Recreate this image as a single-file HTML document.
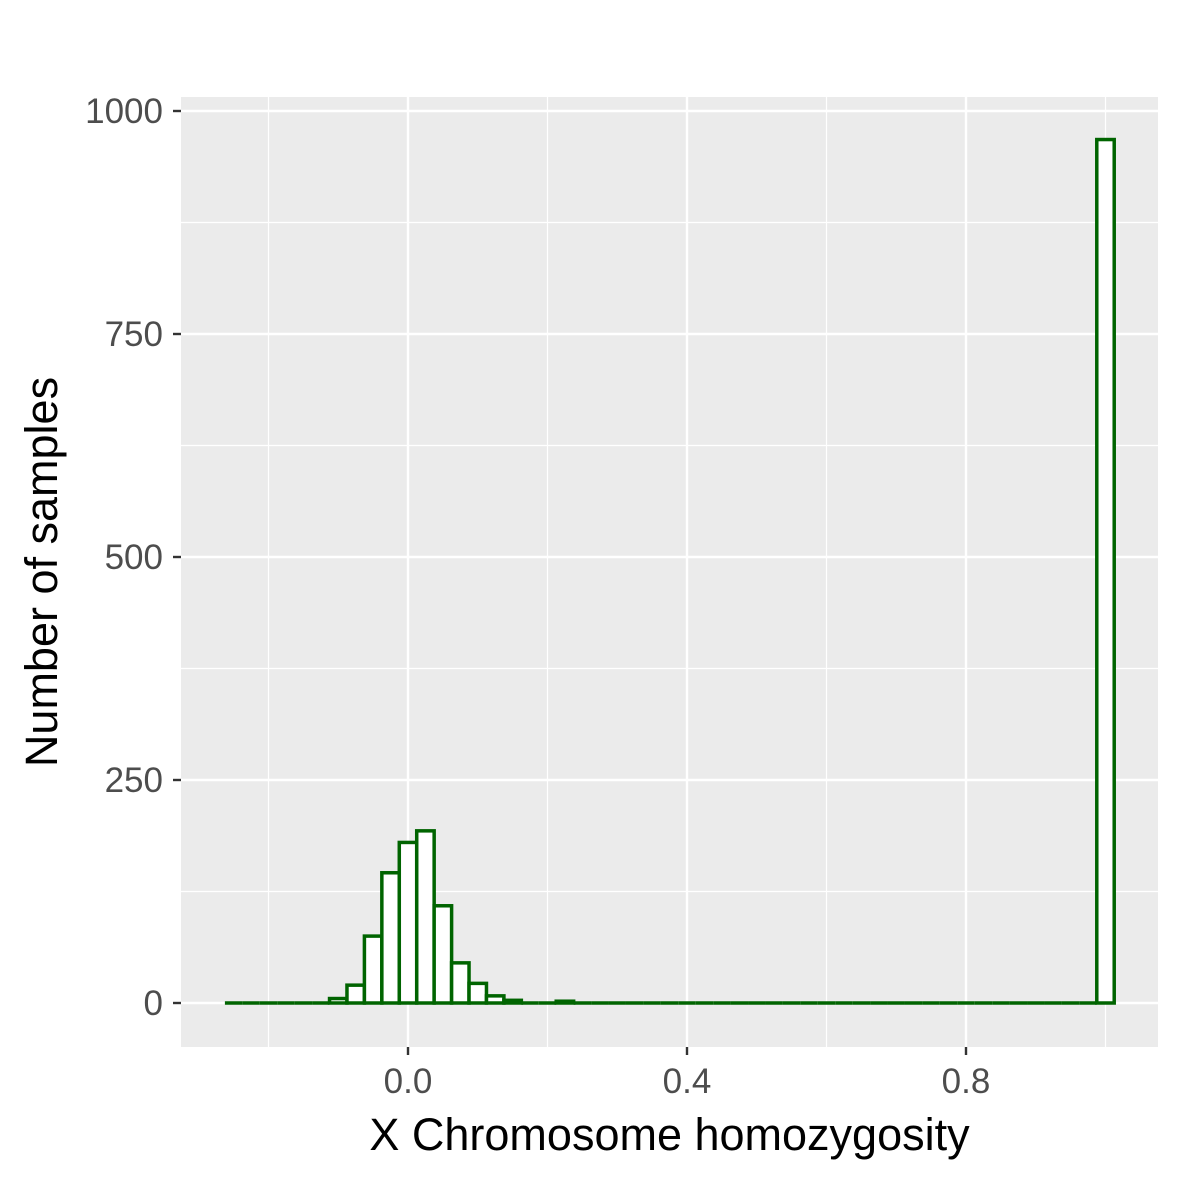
<!DOCTYPE html>
<html><head><meta charset="utf-8"><style>body{margin:0;background:#fff}svg{display:block}</style></head>
<body>
<svg id="chart" width="1181" height="1181" xmlns="http://www.w3.org/2000/svg" font-family="Liberation Sans, sans-serif"></svg>
<script>
const binStart = -0.2625;
const binWidth = 0.025;
const counts = [0,0,0,0,0,0,5,20,75,146,180,193,109,45,22,8,3,0,0,2,0,0,0,0,0,0,0,0,0,0,0,0,0,0,0,0,0,0,0,0,0,0,0,0,0,0,0,0,0,0,968];
const xMajor = [0.0,0.4,0.8];
const xMajorLabels = ["0.0","0.4","0.8"];
const xMinor = [-0.2,0.2,0.6,1.0];
const yMajor = [0,250,500,750,1000];
const yMinor = [125,375,625,875];

const svg = document.getElementById('chart');
const NS = 'http://www.w3.org/2000/svg';
const P = {l:181, r:1158, t:97, b:1047};
const xs = v => 408 + v*697.5;
const ys = v => 1003 - v*0.892;
function mk(tag, attrs, parent){const e=document.createElementNS(NS,tag);for(const k in attrs)e.setAttribute(k,attrs[k]);(parent||svg).appendChild(e);return e;}

const panel = mk('rect',{x:P.l,y:P.t,width:P.r-P.l,height:P.b-P.t,fill:'#ebebeb'});


const grid = mk('g',{});


xMinor.forEach(v=>mk('line',{x1:xs(v),x2:xs(v),y1:P.t,y2:P.b,stroke:'#fff','stroke-width':1.2},grid));
yMinor.forEach(v=>mk('line',{x1:P.l,x2:P.r,y1:ys(v),y2:ys(v),stroke:'#fff','stroke-width':1.2},grid));
xMajor.forEach(v=>mk('line',{x1:xs(v),x2:xs(v),y1:P.t,y2:P.b,stroke:'#fff','stroke-width':2.4},grid));
yMajor.forEach(v=>mk('line',{x1:P.l,x2:P.r,y1:ys(v),y2:ys(v),stroke:'#fff','stroke-width':2.4},grid));

const bars = mk('g',{});


counts.forEach((c,i)=>{
  const x0=xs(binStart+i*binWidth), x1=xs(binStart+(i+1)*binWidth);
  let r;
  if(c===0){
    r=mk('line',{x1:x0,x2:x1,y1:ys(0),y2:ys(0),stroke:'#006400','stroke-width':3.5},bars);
  } else {
    r=mk('rect',{x:x0,y:ys(c),width:x1-x0,height:ys(0)-ys(c),fill:'#fff',stroke:'#006400','stroke-width':3.5},bars);
  }
  
  
});

const axes = mk('g',{fill:'#4d4d4d','font-size':35});


yMajor.forEach(v=>{
  mk('line',{x1:P.l-8,x2:P.l,y1:ys(v),y2:ys(v),stroke:'#333','stroke-width':2.4},axes);
  const t=mk('text',{x:P.l-18,y:ys(v)+12,'text-anchor':'end'},axes);t.textContent=v;
  
  
});
xMajor.forEach((v,i)=>{
  mk('line',{x1:xs(v),x2:xs(v),y1:P.b,y2:P.b+8,stroke:'#333','stroke-width':2.4},axes);
  const t=mk('text',{x:xs(v),y:P.b+46,'text-anchor':'middle'},axes);t.textContent=xMajorLabels[i];
  
  
});
const xt=mk('text',{x:(P.l+P.r)/2,y:1150,'text-anchor':'middle','font-size':45,fill:'#000'});
xt.textContent='X Chromosome homozygosity';


const yt=mk('text',{x:0,y:0,'text-anchor':'middle','font-size':45,fill:'#000',transform:'translate(57,572) rotate(-90)'});
yt.textContent='Number of samples';


</script>
</body></html>
